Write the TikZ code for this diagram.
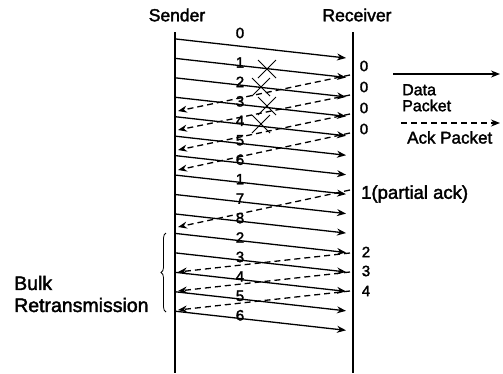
\documentclass[tikz,border=0pt]{standalone}
\usepackage{fontspec}
\setmainfont{Liberation Sans}[FakeBold=2]
\usetikzlibrary{arrows.meta,decorations.pathreplacing}
\begin{document}
\begin{tikzpicture}[x=1pt,y=-1pt,
  lifeline/.style={line width=2.8pt},
  datapkt/.style={line width=1.3pt,-{Stealth[length=9pt,width=7pt]}},
  ackpkt/.style={line width=1.3pt,dash pattern=on 6pt off 4pt,-{Stealth[length=9pt,width=7pt]}},
  hdr/.style={font=\fontsize{17.5}{19}\selectfont},
  num/.style={font=\fontsize{15}{16}\selectfont,inner sep=0pt},
  lbl/.style={font=\fontsize{17}{20}\selectfont,inner sep=0pt,align=left},
  lossmark/.style={line width=1pt}]
\useasboundingbox (0,0) rectangle (503,373);
% lifelines
\coordinate (sTop) at (175,32);
\coordinate (sBot) at (175,373);
\coordinate (rTop) at (353,32);
\coordinate (rBot) at (353,373);
\draw[lifeline] (sTop) -- (sBot);
\draw[lifeline] (rTop) -- (rBot);
\node[hdr] (sender) at (177,15) {Sender};
\node[hdr] (receiver) at (357,15) {Receiver};
% data packets
\foreach \i in {0,...,14}{
  \pgfmathsetmacro{\ys}{39+19.45*\i}
  \pgfmathsetmacro{\ye}{\ys+19}
  \coordinate (ds\i) at (176,\ys);
  \coordinate (de\i) at (346,\ye);
  \draw[datapkt] (ds\i) -- (de\i);
}
\node[num] (l0) at (240,33) {0};
\foreach \i/\t in {1/1,2/2,3/3,4/4,5/5,6/6,7/1,8/7,9/8,10/2,11/3,12/4,13/5,14/6}{
  \pgfmathsetmacro{\yl}{39+19.45*\i+4}
  \node[num] (l\i) at (240,\yl) {\t};
}
% loss marks
\foreach \k/\xx/\yy in {1/267/69,2/261/87,3/267/106,4/261/124}{
  \draw[lossmark] (\xx-9,\yy-9) -- (\xx+9,\yy+9) (\xx-9,\yy+9) -- (\xx+9,\yy-9);
}
% ack packets
\coordinate (as1) at (350,75);  \coordinate (ae1) at (178,111);
\coordinate (as2) at (350,95);  \coordinate (ae2) at (178,130);
\coordinate (as3) at (350,114); \coordinate (ae3) at (178,150);
\coordinate (as4) at (350,133); \coordinate (ae4) at (178,170);
\coordinate (as5) at (350,190); \coordinate (ae5) at (178,227);
\coordinate (as6) at (350,253); \coordinate (ae6) at (178,272);
\coordinate (as7) at (350,272); \coordinate (ae7) at (178,291);
\coordinate (as8) at (350,291); \coordinate (ae8) at (178,310);
\foreach \k in {1,...,8}{ \draw[ackpkt] (as\k) -- (ae\k); }
% receiver labels
\node[num] (r1) at (364,66) {0};
\node[num] (r2) at (364,87) {0};
\node[num] (r3) at (364,108) {0};
\node[num] (r4) at (364,129) {0};
\node[lbl,anchor=west,font=\fontsize{18.5}{20}\selectfont] (r5) at (361,194) {1(partial ack)};
\node[num] (r6) at (366,252) {2};
\node[num] (r7) at (366,271) {3};
\node[num] (r8) at (366,291) {4};
% legend
\coordinate (lgA) at (393,74); \coordinate (lgB) at (500,74);
\draw[datapkt] (lgA) -- (lgB);
\node[lbl,anchor=north west,font=\fontsize{16}{16}\selectfont] (lgData) at (402,84) {Data\\Packet};
\coordinate (lgC) at (401,123); \coordinate (lgD) at (500,123);
\draw[ackpkt] (lgC) -- (lgD);
\node[lbl,anchor=north west] (lgAck) at (407,131) {Ack Packet};
% bulk retransmission
\draw[line width=0.8pt,decorate,decoration={brace,amplitude=5pt}] (166,312) -- (166,233);
\node[lbl,anchor=west,font=\fontsize{19.5}{22}\selectfont] (bulk) at (14,294) {Bulk\\Retransmission};
\end{tikzpicture}
\end{document}
